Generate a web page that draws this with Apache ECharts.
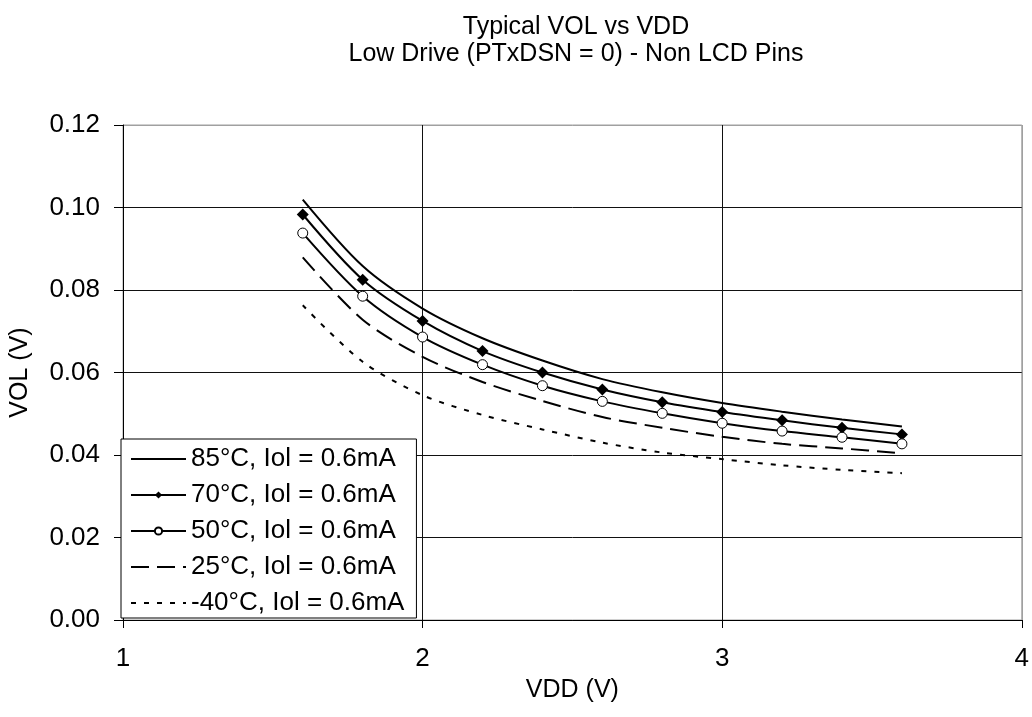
<!DOCTYPE html>
<html>
<head>
<meta charset="utf-8">
<script src="https://cdn.jsdelivr.net/npm/echarts@6/dist/echarts.min.js"></script>
<style>html,body{margin:0;padding:0;background:#fff}#c{width:1032px;height:717px}</style>
</head>
<body>
<div id="c"></div>
<script>
const vdd = [1.6, 1.8, 2.0, 2.2, 2.4, 2.6, 2.8, 3.0, 3.2, 3.4, 3.6];
const vol85 = [0.1019, 0.0858, 0.0755, 0.0683, 0.0629, 0.0584, 0.0552, 0.0526, 0.0505, 0.0486, 0.0469];
const vol70 = [0.0983, 0.0825, 0.0725, 0.0652, 0.0600, 0.0559, 0.0528, 0.0504, 0.0484, 0.0466, 0.0450];
const vol50 = [0.0938, 0.0785, 0.0686, 0.0619, 0.0568, 0.0530, 0.0501, 0.0477, 0.0458, 0.0443, 0.0427];
const vol25 = [0.0879, 0.0728, 0.0638, 0.0577, 0.0531, 0.0492, 0.0466, 0.0444, 0.0427, 0.0416, 0.0404];
const volM40 = [0.0763, 0.0626, 0.0545, 0.0497, 0.0462, 0.0430, 0.0406, 0.0390, 0.0375, 0.0364, 0.0356];
const seriesNames = ['85°C, Iol = 0.6mA', '70°C, Iol = 0.6mA', '50°C, Iol = 0.6mA', '25°C, Iol = 0.6mA', '-40°C, Iol = 0.6mA'];
const titleText = 'Typical VOL vs VDD\nLow Drive (PTxDSN = 0) - Non LCD Pins';
const xName = 'VDD (V)';
const yName = 'VOL (V)';

const FONT = 'Liberation Sans, Arial, sans-serif';
const pair = arr => vdd.map((x, i) => [x, arr[i]]);
const noMarker = [true, false, false, true, true];

const chart = echarts.init(document.getElementById('c'), null, {renderer: 'canvas'});
chart.setOption({
  animation: false,
  backgroundColor: '#fff',
  title: {
    text: titleText,
    left: 571, top: 9, textAlign: 'center',
    textStyle: {fontFamily: FONT, fontSize: 25, fontWeight: 'normal', color: '#000', lineHeight: 27}
  },
  grid: {left: 120, right: 9, top: 125, bottom: 97, show: true, borderColor: '#a0a0a0', borderWidth: 1},
  legend: {
    orient: 'vertical', left: 121, top: 439,
    data: seriesNames.map((n, i) => noMarker[i] ? {name: n, itemStyle: {opacity: 0}} : {name: n}),
    backgroundColor: '#fff', borderColor: '#000', borderWidth: 1,
    padding: [7, 12, 2, 9],
    itemWidth: 55, itemHeight: 9, itemGap: 10,
    textStyle: {fontFamily: FONT, fontSize: 26, color: '#000', lineHeight: 25}
  },
  xAxis: {
    type: 'value', min: 1, max: 4, interval: 1,
    name: xName, nameLocation: 'middle', nameGap: 58,
    nameTextStyle: {fontFamily: FONT, fontSize: 25, color: '#000'},
    axisLine: {show: true, onZero: false, lineStyle: {color: '#000', width: 1}},
    axisTick: {show: true, inside: false, length: 8, lineStyle: {color: '#000'}},
    axisLabel: {fontFamily: FONT, fontSize: 26, color: '#000', margin: 26},
    splitLine: {show: true, lineStyle: {color: ['#000', '#111', '#111', '#a0a0a0'], width: 1}}
  },
  yAxis: {
    type: 'value', min: 0, max: 0.12, interval: 0.02,
    name: yName, nameLocation: 'middle', nameGap: 90, nameRotate: 90,
    nameTextStyle: {fontFamily: FONT, fontSize: 25, color: '#000'},
    axisLine: {show: true, onZero: false, lineStyle: {color: '#000', width: 1}},
    axisTick: {show: true, inside: false, length: 9, lineStyle: {color: '#000'}},
    axisLabel: {fontFamily: FONT, fontSize: 26, color: '#000', margin: 23, formatter: v => v.toFixed(2)},
    splitLine: {show: true, lineStyle: {color: ['#000', '#111', '#111', '#111', '#111', '#111', '#a0a0a0'], width: 1}}
  },
  series: [
    {name: seriesNames[0], type: 'line', data: pair(vol85), smooth: 0.3, symbol: 'none',
     lineStyle: {color: '#000', width: 2}, itemStyle: {color: '#000'}},
    {name: seriesNames[1], type: 'line', data: pair(vol70), smooth: 0.3, symbol: 'diamond', symbolSize: 12,
     lineStyle: {color: '#000', width: 2}, itemStyle: {color: '#000'}},
    {name: seriesNames[2], type: 'line', data: pair(vol50), smooth: 0.3, symbol: 'circle', symbolSize: 10,
     lineStyle: {color: '#000', width: 2}, itemStyle: {color: '#fff', borderColor: '#000', borderWidth: 1}},
    {name: seriesNames[3], type: 'line', data: pair(vol25), smooth: 0.3, symbol: 'none',
     lineStyle: {color: '#000', width: 2, type: [18, 8]}, itemStyle: {color: '#000'}},
    {name: seriesNames[4], type: 'line', data: pair(volM40), smooth: 0.3, symbol: 'none',
     lineStyle: {color: '#000', width: 2, type: [5, 8]}, itemStyle: {color: '#000'}}
  ]
});
</script>
</body>
</html>
